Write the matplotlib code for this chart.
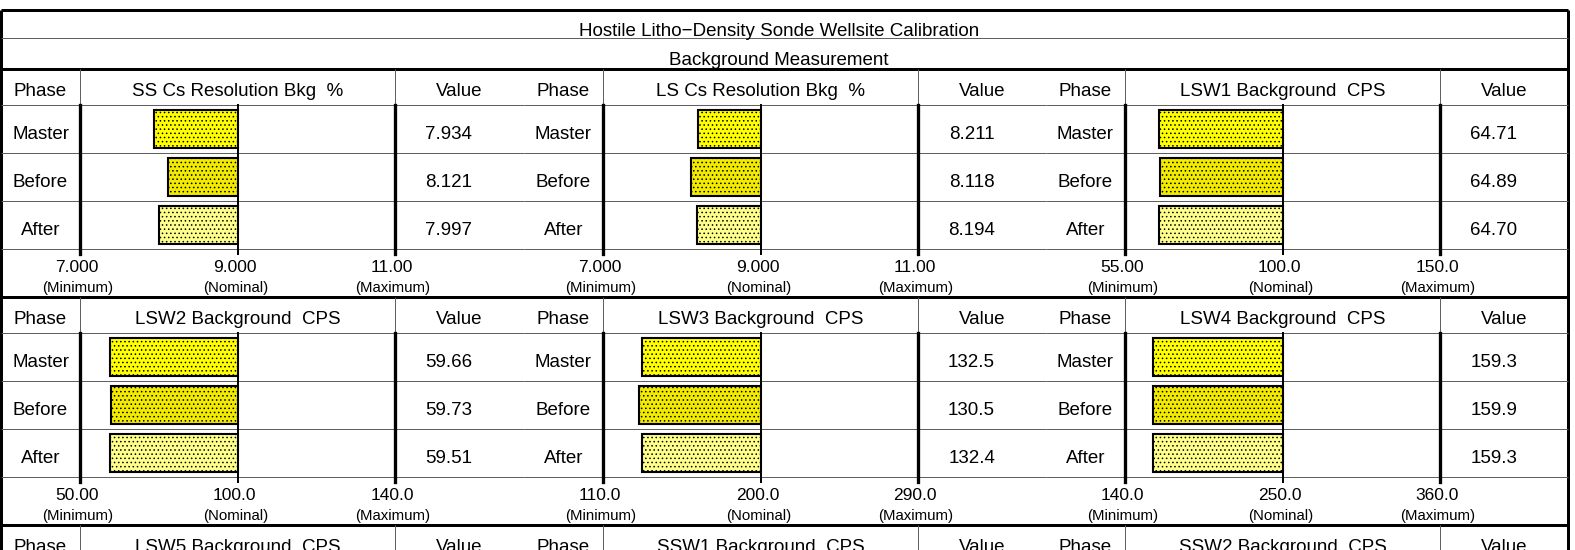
import numpy as np
import matplotlib
matplotlib.use("Agg")
import matplotlib.pyplot as plt

plt.rcParams['font.family'] = ['Liberation Sans', 'DejaVu Sans']
plt.rcParams['hatch.linewidth'] = 0.6

# ---- content -------------------------------------------------------------
title = "Hostile Litho\u2212Density Sonde Wellsite Calibration"
subtitle = "Background Measurement"
phases = ["Master", "Before", "After"]
limit_names = ["(Minimum)", "(Nominal)", "(Maximum)"]

panel_titles = [
    ["SS Cs Resolution Bkg  %", "LS Cs Resolution Bkg  %", "LSW1 Background  CPS"],
    ["LSW2 Background  CPS", "LSW3 Background  CPS", "LSW4 Background  CPS"],
    ["LSW5 Background  CPS", "SSW1 Background  CPS", "SSW2 Background  CPS"],
]
limits_min = [[7.0, 7.0, 55.0], [50.0, 110.0, 140.0]]
limits_nom = [[9.0, 9.0, 100.0], [100.0, 200.0, 250.0]]
limits_max = [[11.0, 11.0, 150.0], [140.0, 290.0, 360.0]]
master_vals = [[7.934, 8.211, 64.71], [59.66, 132.5, 159.3]]
before_vals = [[8.121, 8.118, 64.89], [59.73, 130.5, 159.9]]
after_vals = [[7.997, 8.194, 64.70], [59.51, 132.4, 159.3]]

bar_faces = ["#ffff00", "#f2ea00", "#ffff8c"]

# ---- layout (pixels) -----------------------------------------------------
W, H = 1575, 550
LEFT, RIGHT, TOP = 1, 1568, 10
panel_left = [1, 524, 1046]
panel_right = [524, 1046, 1568]
PHASE_W, CHART_W = 79, 315
block_top = [69, 297, 525]
HEAD, ROW = 36, 48

PX = 0.72  # points per pixel at 100 dpi
THICK, THIN = 3 * PX, 1 * PX
GRID = "#606060"
FS, FS_TICK, FS_NAME = 13.5, 12.5, 10.8


def piecewise(mn, nom, mx):
    xs = [mn, nom, mx]
    return (lambda v: np.interp(v, xs, [0.0, 0.5, 1.0]),
            lambda t: np.interp(t, [0.0, 0.5, 1.0], xs))


fig = plt.figure(figsize=(W / 100, H / 100), dpi=100)
fig.patch.set_facecolor("white")
frame = fig.add_axes([0, 0, 1, 1])
frame.set_xlim(0, W)
frame.set_ylim(H, 0)
frame.axis("off")

# outer frame and title rows
frame.hlines(TOP, LEFT, RIGHT, color="black", lw=THICK)
frame.vlines([LEFT, RIGHT], TOP, H + 5, color="black", lw=THICK)
frame.hlines(38, LEFT, RIGHT, color=GRID, lw=THIN)
frame.text(779, 36, title, ha="center", va="baseline", fontsize=FS)
frame.text(779, 65, subtitle, ha="center", va="baseline", fontsize=FS)

for b, top in enumerate(block_top):
    frame.hlines(top, LEFT, RIGHT, color="black", lw=THICK)
    for c in range(3):
        pl, pr = panel_left[c], panel_right[c]
        x0 = pl + PHASE_W
        x1 = x0 + CHART_W
        # header row
        frame.vlines([x0, x1], top, top + HEAD, color=GRID, lw=THIN)
        for r in range(4):
            frame.hlines(top + HEAD + r * ROW, pl, pr, color=GRID, lw=THIN)
        hy = top + 27
        frame.text((pl + x0) / 2, hy, "Phase", ha="center", va="baseline", fontsize=FS)
        frame.text((x0 + x1) / 2, hy, panel_titles[b][c], ha="center", va="baseline", fontsize=FS)
        frame.text((x1 + pr) / 2, hy, "Value", ha="center", va="baseline", fontsize=FS)

        if b >= len(master_vals):
            continue

        mn, nom, mx = limits_min[b][c], limits_nom[b][c], limits_max[b][c]
        vals = [master_vals[b][c], before_vals[b][c], after_vals[b][c]]

        rows_top = top + HEAD
        for i, (ph, v) in enumerate(zip(phases, vals)):
            ty = rows_top + i * ROW + 34
            frame.text((pl + x0) / 2, ty, ph, ha="center", va="baseline", fontsize=FS)
            frame.text(x1 + 77, ty, f"{v:#.4g}", ha="right", va="baseline", fontsize=FS)

        ax = fig.add_axes([x0 / W, 1 - (rows_top + 3 * ROW) / H, CHART_W / W, 3 * ROW / H])
        ax.set_facecolor("none")
        ax.set_xscale("function", functions=piecewise(mn, nom, mx))
        ax.set_xlim(mn, mx)
        ax.set_ylim(2.5, -0.5)
        ax.axis("off")
        for i, v in enumerate(vals):
            ax.barh(i, nom - v, left=v, height=0.8, color=bar_faces[i],
                    edgecolor="black", linewidth=1.5, hatch="....", zorder=2)
        ext = 5 / (3 * ROW)
        for v, lw in zip((mn, nom, mx), (3.3 * PX, 2 * PX, 3.3 * PX)):
            ax.axvline(v, ymin=-ext, ymax=1, color="black", lw=lw, clip_on=False, zorder=3)
        for v, name in zip((mn, nom, mx), limit_names):
            ax.annotate(f"{v:#.4g}", xy=(v, 0), xycoords=("data", "axes fraction"),
                        xytext=(-3, -23.5), textcoords="offset pixels", ha="center",
                        va="baseline", fontsize=FS_TICK, annotation_clip=False)
            ax.annotate(name, xy=(v, 0), xycoords=("data", "axes fraction"),
                        xytext=(-2, -43), textcoords="offset pixels", ha="center",
                        va="baseline", fontsize=FS_NAME, annotation_clip=False)

fig.savefig("out.png", dpi=100, facecolor="white")
